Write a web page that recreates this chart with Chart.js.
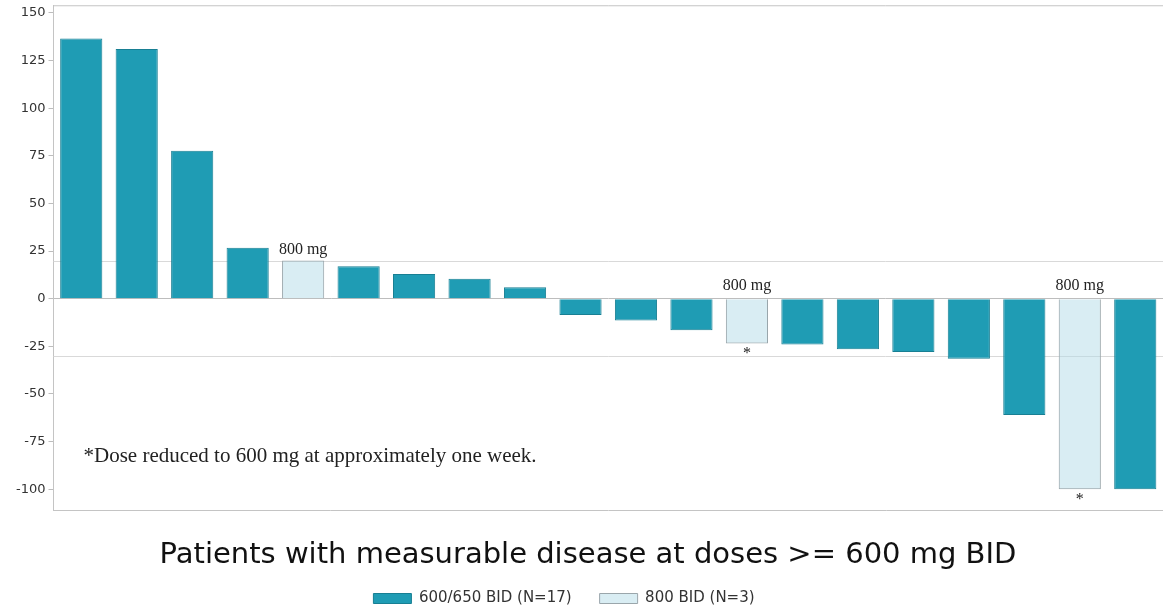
<!DOCTYPE html>
<html lang="en">
<head>
  <meta charset="UTF-8">
  <title>Waterfall plot</title>
  <script src="https://cdn.jsdelivr.net/npm/chart.js"></script>
  <style>
    html, body { margin: 0; padding: 0; background: #fff; }
    .chart-box { width: 1163px; height: 607px; }
  </style>
</head>
<body>
  <div class="chart-box"><canvas id="waterfall"></canvas></div>

  <script>
    // best % change per patient, sorted
    const patients = ['1','2','3','4','5','6','7','8','9','10','11','12','13','14','15','16','17','18','19','20'];
    const changes = [136.5, 131, 77.7, 26.8, 20, 17, 13, 10.5, 6, -8.5, -11.5, -16.5, -23.5, -24, -26.5, -28, -31.5, -61, -100, -100];
    const doseGroup = ['600','600','600','600','800','600','600','600','600','600','600','600','800','600','600','600','600','600','800','600'];
    const reducedDose = [false,false,false,false,false,false,false,false,false,false,false,false,true,false,false,false,false,false,true,false];
    const yTicks = [150, 125, 100, 75, 50, 25, 0, -25, -50, -75, -100];
    const refLines = [20, -30];

    const tealFill = '#1f9cb4';
    const tealEdge = '#187f93';
    const paleFill = 'rgba(180, 220, 232, 0.5)';
    const paleEdge = '#9aa6ab';

    // reference lines, plot frame, "800 mg" labels and the footnote
    const annotate = {
      id: 'annotate',
      afterLayout(chart) {
        // legend in the original sits a bit left of centre
        chart.legend.left -= 24;
        chart.legend.right -= 24;
      },
      beforeDatasetsDraw(chart) {
        const { ctx, chartArea, scales: { y } } = chart;
        ctx.save();
        ctx.strokeStyle = '#d9d9d9';
        ctx.lineWidth = 1;
        refLines.forEach(v => {
          const py = Math.round(y.getPixelForValue(v)) + 0.5;
          ctx.beginPath();
          ctx.moveTo(chartArea.left, py);
          ctx.lineTo(chartArea.right, py);
          ctx.stroke();
        });
        ctx.strokeStyle = '#c4c4c4';
        ctx.beginPath();
        ctx.moveTo(chartArea.left, chartArea.top + 0.5);
        ctx.lineTo(chartArea.right, chartArea.top + 0.5);
        ctx.stroke();
        ctx.restore();
      },
      afterDatasetsDraw(chart) {
        const { ctx, scales: { x, y } } = chart;
        ctx.save();
        ctx.fillStyle = '#222';
        ctx.textAlign = 'center';
        ctx.textBaseline = 'alphabetic';
        doseGroup.forEach((g, i) => {
          if (g !== '800') return;
          const px = x.getPixelForValue(i);
          const top = y.getPixelForValue(Math.max(changes[i], 0));
          ctx.font = '16px "Liberation Serif", serif';
          ctx.fillText('800 mg', px, top - (changes[i] > 0 ? 7 : 9));
          if (reducedDose[i]) {
            ctx.fillText('*', px, y.getPixelForValue(changes[i]) + 15);
          }
        });
        ctx.textAlign = 'left';
        ctx.font = '21px "Liberation Serif", serif';
        ctx.fillText('*Dose reduced to 600 mg at approximately one week.', x.left + 30, y.getPixelForValue(-85.5));
        ctx.restore();
      }
    };

    new Chart(document.getElementById('waterfall'), {
      type: 'bar',
      data: {
        labels: patients,
        datasets: [
          {
            label: '600/650 BID (N=17)',
            data: changes.map((v, i) => doseGroup[i] === '600' ? v : null),
            backgroundColor: tealFill,
            borderColor: tealEdge,
            borderWidth: 1,
            grouped: false,
            categoryPercentage: 1,
            barPercentage: 0.76
          },
          {
            label: '800 BID (N=3)',
            data: changes.map((v, i) => doseGroup[i] === '800' ? v : null),
            backgroundColor: paleFill,
            borderColor: paleEdge,
            borderWidth: 1,
            grouped: false,
            categoryPercentage: 1,
            barPercentage: 0.76
          }
        ]
      },
      options: {
        responsive: true,
        maintainAspectRatio: false,
        animation: false,
        layout: { padding: { left: 13, right: 0, top: 0, bottom: -9 } },
        scales: {
          x: {
            ticks: { display: false },
            grid: { display: false },
            border: { display: true, color: '#c4c4c4', width: 1 }
          },
          y: {
            min: -111,
            max: 154,
            afterBuildTicks: scale => { scale.ticks = yTicks.map(v => ({ value: v })); },
            ticks: {
              color: '#333',
              padding: 3,
              font: { family: '"DejaVu Sans", sans-serif', size: 13, lineHeight: 0.35 }
            },
            grid: {
              drawOnChartArea: true,
              color: c => (c.tick && c.tick.value === 0) ? '#bdbdbd' : 'rgba(0,0,0,0)',
              tickColor: '#bdbdbd',
              tickLength: 5
            },
            border: { display: true, color: '#c4c4c4', width: 1 }
          }
        },
        plugins: {
          title: {
            display: true,
            position: 'bottom',
            text: 'Patients with measurable disease at doses >= 600 mg BID',
            color: '#111',
            font: { family: '"DejaVu Sans", sans-serif', size: 29, weight: 'normal' },
            padding: { top: 20, bottom: -10 }
          },
          legend: {
            position: 'bottom',
            weight: 3000,
            labels: {
              color: '#333',
              font: { family: '"DejaVu Sans", sans-serif', size: 15 },
              boxWidth: 38,
              boxHeight: 10,
              padding: 28
            }
          },
          tooltip: { enabled: false }
        }
      },
      plugins: [annotate]
    });
  </script>
</body>
</html>
